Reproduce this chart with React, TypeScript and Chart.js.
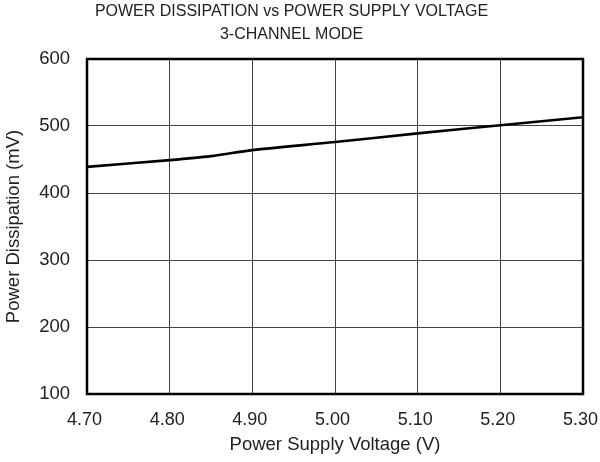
import React, { useEffect, useRef } from "react";
import { Chart, registerables } from "chart.js";

Chart.register(...registerables);

const voltages = [4.7, 4.8, 4.85, 4.9, 5.0, 5.1, 5.2, 5.3];
const dissipation = [439, 449, 455, 464, 476, 489, 501, 513];
const xTickValues = [4.7, 4.8, 4.9, 5.0, 5.1, 5.2, 5.3];
const yTickValues = [100, 200, 300, 400, 500, 600];
const titleLines = ["POWER DISSIPATION vs POWER SUPPLY VOLTAGE", "3-CHANNEL MODE"];
const xTitle = "Power Supply Voltage (V)";
const yTitle = "Power Dissipation (mV)";

const FONT = "'Liberation Sans', Arial, sans-serif";
const TEXT = "#222";

const borderPlugin = {
  id: "frameBox",
  afterDatasetsDraw(chart: any) {
    const { ctx, chartArea } = chart;
    ctx.save();
    ctx.strokeStyle = "#000";
    ctx.lineWidth = 2.5;
    ctx.strokeRect(chartArea.left, chartArea.top, chartArea.right - chartArea.left, chartArea.bottom - chartArea.top);
    ctx.restore();
  },
};

export default function App() {
  const ref = useRef<HTMLCanvasElement>(null);
  useEffect(() => {
    if (!ref.current) return;
    const chart = new Chart(ref.current, {
      type: "line",
      data: {
        datasets: [
          {
            data: voltages.map((v, i) => ({ x: v, y: dissipation[i] })),
            borderColor: "#000",
            borderWidth: 2.6,
            pointRadius: 0,
            tension: 0.3,
            fill: false,
          },
        ],
      },
      options: {
        animation: false,
        responsive: false,
        maintainAspectRatio: false,
        layout: { padding: { left: 0, right: 17, top: 0, bottom: 0 } },
        plugins: {
          legend: { display: false },
          tooltip: { enabled: false },
          title: {
            display: true,
            text: titleLines,
            color: TEXT,
            font: { family: FONT, size: 16, weight: "normal", lineHeight: 1.45 },
            padding: { top: 0, bottom: 12.6 },
          },
        },
        scales: {
          x: {
            type: "linear",
            min: 4.7,
            max: 5.3,
            afterBuildTicks: (axis: any) => {
              axis.ticks = xTickValues.map((v) => ({ value: v }));
            },
            afterFit: (axis: any) => {
              axis.height = 68;
              axis.paddingLeft = 0;
              axis.paddingRight = 0;
            },
            ticks: {
              color: TEXT,
              font: { family: FONT, size: 18 },
              padding: 15,
              maxRotation: 0,
              autoSkip: false,
              callback: (v: any) => Number(v).toFixed(2) + " ",
            },
            grid: { color: "#444", lineWidth: 1, drawTicks: false },
            border: { display: false },
            title: {
              display: true,
              text: xTitle,
              color: TEXT,
              font: { family: FONT, size: 18.5 },
              padding: { top: 0, bottom: 6 },
            },
          },
          y: {
            type: "linear",
            min: 100,
            max: 600,
            afterBuildTicks: (axis: any) => {
              axis.ticks = yTickValues.map((v) => ({ value: v }));
            },
            afterFit: (axis: any) => {
              axis.width = 87;
              axis.paddingTop = 0;
              axis.paddingBottom = 0;
            },
            ticks: {
              color: TEXT,
              font: { family: FONT, size: 18.5 },
              padding: 17,
              autoSkip: false,
            },
            grid: { color: "#444", lineWidth: 1, drawTicks: false },
            border: { display: false },
            title: {
              display: true,
              text: yTitle,
              color: TEXT,
              font: { family: FONT, size: 18.5 },
              padding: { top: 3, bottom: 0 },
            },
          },
        },
      },
      plugins: [borderPlugin],
    } as any);
    return () => chart.destroy();
  }, []);
  return (
    <div style={{ position: "fixed", left: 0, top: 0, width: 600, height: 462, background: "#fff" }}>
      <canvas ref={ref} width={600} height={462} />
    </div>
  );
}
